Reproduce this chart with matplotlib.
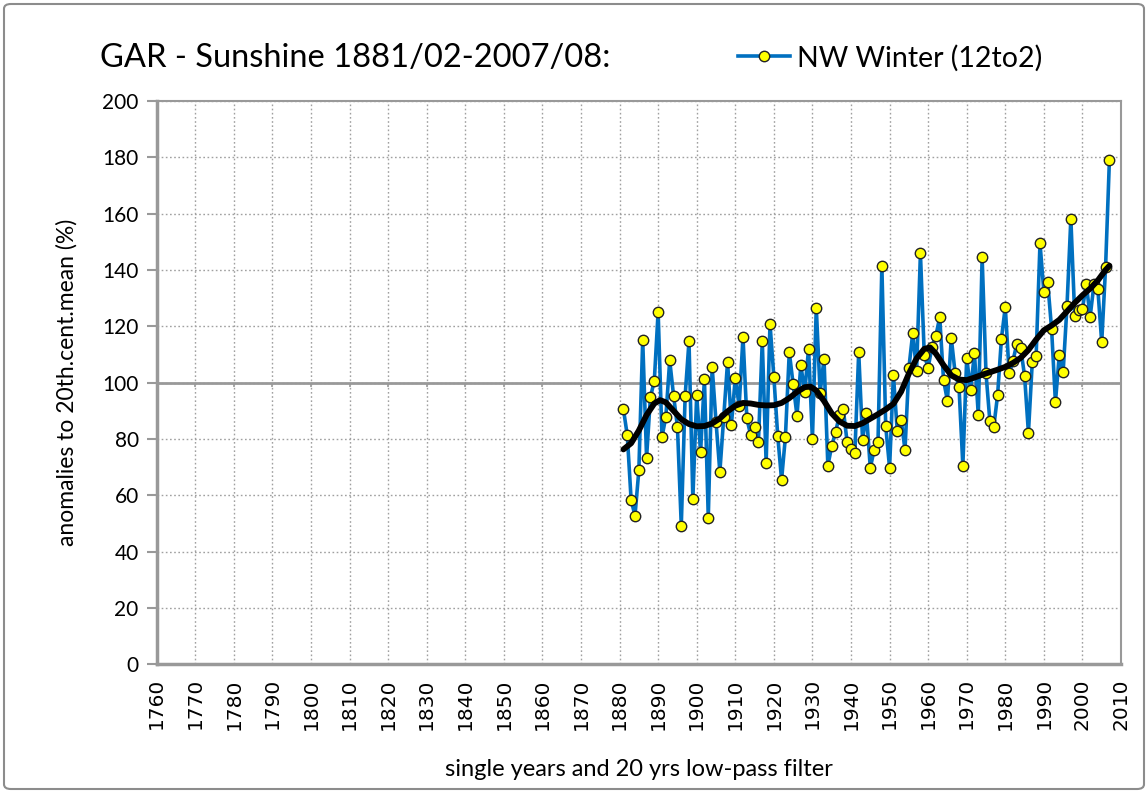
import matplotlib
matplotlib.use("Agg")
import matplotlib.pyplot as plt
from matplotlib.patches import FancyBboxPatch
from matplotlib.lines import Line2D

years = list(range(1881, 2008))
values = [
    90.6, 81.3, 58.3, 52.8, 68.9, 115.1, 73.4, 94.9, 100.5, 125.2,   # 1881-1890
    80.7, 87.9, 107.9, 95.4, 84.4, 49.2, 95.3, 114.7, 58.8, 95.5,    # 1891-1900
    75.3, 101.4, 52.1, 105.7, 86.2, 68.3, 87.7, 107.4, 85.1, 101.8,  # 1901-1910
    91.7, 116.3, 87.3, 81.3, 84.3, 78.9, 114.8, 71.4, 120.9, 102.1,  # 1911-1920
    81.2, 65.5, 80.8, 110.9, 99.4, 88.3, 106.2, 96.6, 112.1, 79.9,   # 1921-1930
    126.6, 96.5, 108.5, 70.5, 77.5, 82.4, 88.5, 90.6, 78.8, 76.6,    # 1931-1940
    74.9, 110.8, 79.6, 89.2, 69.7, 76.1, 78.8, 141.5, 84.6, 69.8,    # 1941-1950
    102.7, 82.7, 86.9, 76.1, 105.1, 117.5, 104.2, 145.9, 109.7, 105.3,  # 1951-1960
    112.8, 116.6, 123.2, 100.8, 93.6, 115.9, 103.3, 98.6, 70.5, 108.8,  # 1961-1970
    97.4, 110.4, 88.6, 144.5, 103.3, 86.4, 84.1, 95.5, 115.6, 126.9,    # 1971-1980
    103.3, 107.8, 113.9, 112.2, 102.4, 82.2, 107.4, 109.6, 149.5, 132.3,  # 1981-1990
    135.6, 119.2, 93.0, 109.9, 103.8, 127.3, 158.2, 123.7, 125.8, 126.1,  # 1991-2000
    135.0, 123.4, 135.0, 133.2, 114.3, 141.0, 179.2,                      # 2001-2007
]

# 20-yr low-pass filter
filt_years = [1881, 1883, 1885, 1887, 1889, 1890.5, 1892, 1894, 1896, 1898, 1900,
              1902, 1904, 1906, 1908, 1910, 1912, 1914, 1916, 1918, 1920, 1922,
              1924, 1926, 1928, 1929.5, 1931, 1933, 1935, 1937, 1939, 1941, 1943,
              1945, 1947, 1949, 1951, 1953, 1955, 1957, 1959, 1960.5, 1962, 1964,
              1966, 1968, 1970, 1972, 1974, 1976, 1978, 1980, 1982, 1984, 1986,
              1988, 1990, 1992, 1994, 1996, 1998, 2000, 2002, 2004, 2006, 2007]
filt_values = [76.3, 78.5, 83.0, 88.5, 92.6, 93.8, 93.0, 90.0, 87.0, 85.3, 84.5,
               84.6, 85.5, 87.3, 89.8, 91.8, 92.8, 92.6, 92.1, 91.9, 92.0, 92.8,
               94.5, 96.7, 98.4, 98.6, 97.2, 93.5, 89.1, 86.2, 84.7, 84.6, 85.6,
               87.2, 88.8, 90.5, 92.5, 96.8, 103.2, 108.6, 112.0, 112.5, 110.3, 106.2,
               102.6, 101.1, 100.9, 101.8, 102.8, 103.7, 104.6, 105.6, 107.0, 108.8, 111.6,
               115.3, 118.6, 120.3, 122.3, 125.3, 128.3, 131.0, 133.4, 136.3, 140.0, 141.5]

xticks = list(range(1760, 2011, 10))
yticks = list(range(0, 201, 20))

W, H = 1148, 793
fig = plt.figure(figsize=(W / 100, H / 100), dpi=100)
plt.rcParams['font.family'] = ['Lato', 'DejaVu Sans']

# outer frame
fig.patches.append(FancyBboxPatch((4 / W, 4 / H), 1 - 8 / W, 1 - 8 / H,
                                  boxstyle="round,pad=0,rounding_size=0.006",
                                  transform=fig.transFigure, fill=False,
                                  edgecolor="#8c8c8c", linewidth=1.5))

left, right, top, bottom = 156.7, 1121, 101, 664.3
ax = fig.add_axes([left / W, 1 - bottom / H, (right - left) / W, (bottom - top) / H])
ax.set_xlim(1760, 2010)
ax.set_ylim(0, 200)

ax.set_xticks(xticks)
ax.set_yticks(yticks)
ax.grid(True, which='major', color='#a0a0a0', linestyle=(0, (1.2, 1.8)), linewidth=1.0)
ax.set_axisbelow(True)

ax.axhline(100, color='#999999', linewidth=2.0, zorder=1)
ax.vlines(xticks, 98.3, 100, color='#999999', linewidth=1.2, zorder=1)

for s in ax.spines.values():
    s.set_color('#999999')
    s.set_linewidth(1.5)
ax.spines['left'].set_linewidth(2.5)
ax.spines['bottom'].set_linewidth(2.5)

ax.tick_params(axis='y', direction='out', length=7, width=1.5, color='#999999',
               labelsize=15, pad=6)
ax.tick_params(axis='x', direction='in', length=0, labelsize=14.5, pad=10,
               labelrotation=90)
for lbl in ax.get_xticklabels():
    lbl.set_fontfamily('DejaVu Sans')

ax.plot(years, values, color='#0070C0', linewidth=2.6, marker='o',
        markersize=7.5, markerfacecolor='#FFFF00', markeredgecolor='#222222',
        markeredgewidth=1.0, zorder=3)
ax.plot(filt_years, filt_values, color='black', linewidth=4.2, zorder=4,
        solid_capstyle='round', solid_joinstyle='round')

ax.set_ylabel('anomalies to 20th.cent.mean (%)', fontsize=16.5, labelpad=18)
fig.text(0.5 * (left + right) / W, 1 - 770 / H, 'single years and 20 yrs low-pass filter',
         ha='center', va='center', fontsize=17)

fig.text(100 / W, 1 - 58 / H, 'GAR - Sunshine 1881/02-2007/08:', ha='left',
         va='center', fontsize=23.5)

handle = Line2D([], [], color='#0070C0', linewidth=2.6, marker='o', markersize=7.5,
                markerfacecolor='#FFFF00', markeredgecolor='#222222')
fig.legend([handle], ['NW Winter (12to2)'], loc='center left',
           bbox_to_anchor=(727 / W, 1 - 58 / H), frameon=False, fontsize=20.5,
           handlelength=1.8, handletextpad=0.25, borderaxespad=0)

fig.savefig('out.png', dpi=100)
